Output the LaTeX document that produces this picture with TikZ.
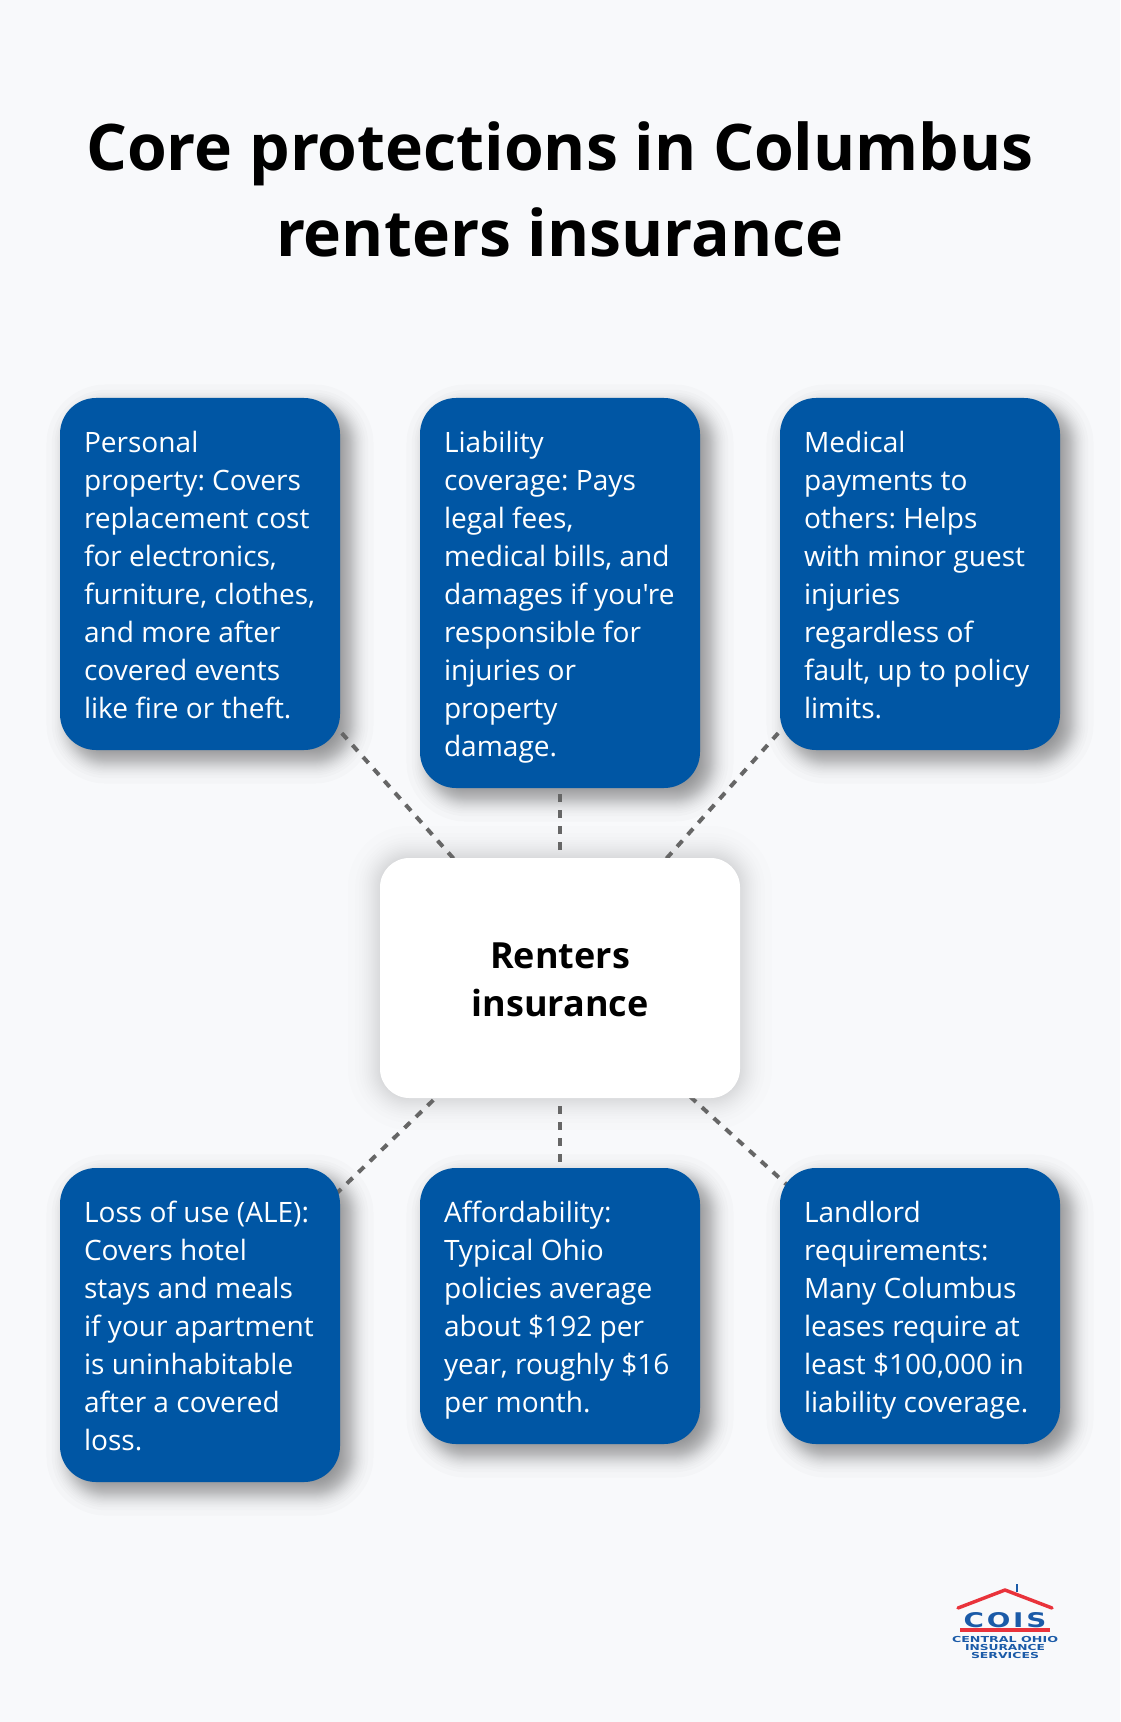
\documentclass[tikz,border=0pt]{standalone}
\usepackage{fontspec}
\setmainfont{Open Sans}[Ligatures=TeXOff]
\newfontfamily\logofont{DejaVu Sans}
\definecolor{pagebg}{HTML}{F8F9FB}
\definecolor{cardblue}{HTML}{0056A4}
\definecolor{dashgrey}{HTML}{666666}
\definecolor{logoblue}{HTML}{1B5BA8}
\definecolor{logored}{HTML}{E9333B}
% soft shadow: x1 y1 x2 y2 radius sigma dx dy alpha
\newcommand\softshadow[9]{%
  \foreach \k in {-2.14,-1.66,-1.40,-1.21,-1.06,-0.93,-0.81,-0.70,-0.60,-0.51,-0.42,-0.33,-0.245,-0.16,-0.08,0,0.08,0.16,0.245,0.33,0.42,0.51,0.60,0.70,0.81,0.93,1.06,1.21,1.40,1.66,2.14}{%
    \pgfmathsetmacro\sp{\k*#6}%
    \pgfmathsetmacro\rr{max(1,#5+\sp)*0.75}%
    \fill[black,opacity=#9,rounded corners=\rr pt]
      ({#1+#7-\sp},{#2+#8-\sp}) rectangle ({#3+#7+\sp},{#4+#8+\sp});
  }%
}
\newcommand\lowered[2]{\raisebox{-#1}[\dimexpr\height+#1\relax][\dimexpr\depth+#1\relax]{#2}}
\newcommand\cardtext[1]{\lowered{2.9pt}{\makebox[174pt][l]{\begin{tabular}{@{}l@{}}#1\end{tabular}}}}
\tikzset{
  x=0.75pt,y=-0.75pt,
  cardbox/.style={fill=cardblue,text=white,rounded corners=27pt,minimum width=210pt,
    inner sep=0pt,font=\fontsize{21.05}{28.5}\selectfont\frenchspacing},
  hubbox/.style={fill=white,text=black,rounded corners=22pt,minimum width=270pt,minimum height=180pt,
    align=center,inner sep=0pt,font=\fontsize{27}{35.5}\selectfont\bfseries\frenchspacing},
  titletext/.style={align=center,inner sep=0pt,text=black,font=\fontsize{48.2}{65}\selectfont\bfseries\frenchspacing},
  spoke/.style={draw=dashgrey,line width=3pt,dash pattern=on 6pt off 6pt},
  logotext/.style={inner sep=0pt,text=logoblue,font=\logofont\bfseries},
}
\begin{document}
\begin{tikzpicture}
\useasboundingbox (0,0) rectangle (1120,1722);
\fill[pagebg] (0,0) rectangle (1120,1722);

\node[titletext] (title) at (560,189.5) {Core protections in Columbus\\renters insurance};

% shadows
\softshadow{60}{398}{340}{750}{36}{11}{10}{10}{0.0153}
\softshadow{420}{398}{700}{788}{36}{11}{10}{10}{0.0153}
\softshadow{780}{398}{1060}{750}{36}{11}{10}{10}{0.0153}
\softshadow{60}{1168}{340}{1482}{36}{11}{10}{10}{0.0153}
\softshadow{420}{1168}{700}{1444}{36}{11}{10}{10}{0.0153}
\softshadow{780}{1168}{1060}{1444}{36}{11}{10}{10}{0.0153}
\softshadow{380}{858}{740}{1098}{29}{15}{0}{0}{0.0075}

\coordinate (hubc) at (560,978);
\coordinate (c1c) at (200,574);
\coordinate (c2c) at (560,593);
\coordinate (c3c) at (920,574);
\coordinate (c4c) at (200,1325);
\coordinate (c5c) at (560,1306);
\coordinate (c6c) at (920,1306);

\draw[spoke] (hubc) -- (c1c);
\draw[spoke] (hubc) -- (c2c);
\draw[spoke] (hubc) -- (c3c);
\draw[spoke] (hubc) -- (c4c);
\draw[spoke] (hubc) -- (c5c);
\draw[spoke] (hubc) -- (c6c);

\node[cardbox,minimum height=264pt] (c1) at (c1c) {\cardtext{Personal\\property: Covers\\replacement cost\\for electronics,\\furniture, clothes,\\and more after\\covered events\\like fire or theft.}};
\node[cardbox,minimum height=292.5pt] (c2) at (c2c) {\cardtext{Liability\\coverage: Pays\\legal fees,\\medical bills, and\\damages if you're\\responsible for\\injuries or\\property\\damage.}};
\node[cardbox,minimum height=264pt] (c3) at (c3c) {\cardtext{Medical\\payments to\\others: Helps\\with minor guest\\injuries\\regardless of\\fault, up to policy\\limits.}};
\node[hubbox] (hub) at (hubc) {\lowered{3.7pt}{\begin{tabular}{@{}c@{}}Renters\\insurance\end{tabular}}};
\node[cardbox,minimum height=235.5pt] (c4) at (c4c) {\cardtext{Loss of use (ALE):\\Covers hotel\\stays and meals\\if your apartment\\is uninhabitable\\after a covered\\loss.}};
\node[cardbox,minimum height=207pt] (c5) at (c5c) {\cardtext{Affordability:\\Typical Ohio\\policies average\\about \$192 per\\year, roughly \$16\\per month.}};
\node[cardbox,minimum height=207pt] (c6) at (c6c) {\cardtext{Landlord\\requirements:\\Many Columbus\\leases require at\\least \$100,000 in\\liability coverage.}};

% logo
\draw[logoblue,line width=1.6pt] (1017,1584) -- (1017,1592);
\draw[logored,line width=2.6pt,line cap=round,line join=round] (958,1608) -- (1005,1590) -- (1052,1608);
\fill[logored] (960,1628) rectangle (1050,1632);
\node[logotext] (lcois) at (1005,1620) {\resizebox{62pt}{11.25pt}{C\kern.1em O\kern.1em I\kern.1em S}};
\node[logotext] (l1) at (1005,1639) {\resizebox{79.5pt}{4.6pt}{CENTRAL OHIO}};
\node[logotext] (l2) at (1005,1647) {\resizebox{60pt}{4.6pt}{INSURANCE}};
\node[logotext] (l3) at (1005,1655) {\resizebox{51pt}{4.6pt}{SERVICES}};
\end{tikzpicture}
\end{document}
